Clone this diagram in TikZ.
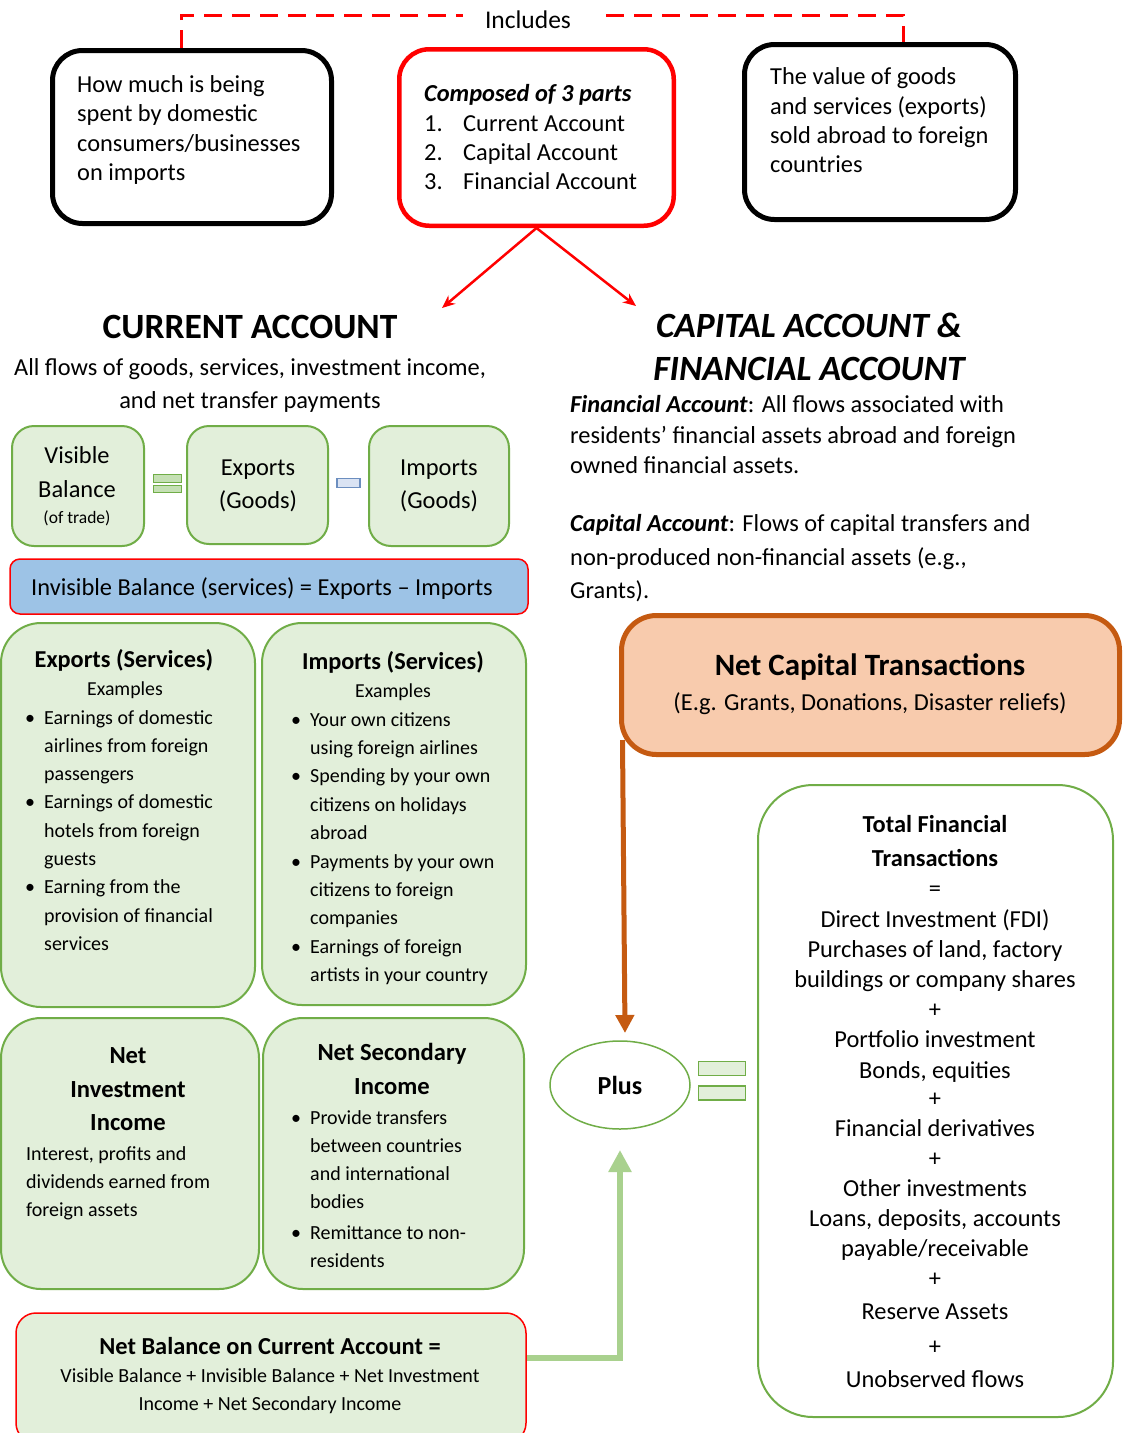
\documentclass[tikz,border=0pt]{standalone}
\usepackage{fontspec}
\setmainfont{Carlito}
\usetikzlibrary{shapes.geometric,arrows.meta}
\definecolor{gfill}{HTML}{E2EFDA}
\definecolor{gline}{HTML}{70AD47}
\definecolor{geq}{HTML}{C5E0B4}
\definecolor{bfill}{HTML}{9DC3E6}
\definecolor{mfill}{HTML}{DAE3F3}
\definecolor{mline}{HTML}{6C8EBF}
\definecolor{ofill}{HTML}{F8CBAD}
\definecolor{oline}{HTML}{C55A11}
\definecolor{garrow}{HTML}{A9D18E}
\newcommand\fsz[2]{\fontsize{#1}{#2}\selectfont}
\newcommand\bul{\llap{\textbullet\hspace{9pt}}}
\begin{document}
\begin{tikzpicture}[x=1pt,y=-1pt,
 box/.style={draw, rectangle, inner sep=0pt},
 blackbox/.style={box, line width=5pt, rounded corners=30pt, fill=white},
 redbox/.style={box, draw=red, line width=4.5pt, rounded corners=30pt, fill=white},
 gbox/.style={box, draw=gline, line width=2pt, fill=gfill},
 txt/.style={inner sep=0pt, align=left, anchor=north west},
 ctxt/.style={inner sep=0pt, align=center, anchor=north},
 btxt/.style={inner sep=0pt, anchor=base},
 redarrow/.style={draw=red, line width=2.5pt, -{Stealth[length=13pt,width=11pt]}},
 garr/.style={draw=garrow, line width=6pt, -{Triangle[length=22pt,width=22pt]}},
 oarr/.style={draw=oline, line width=5pt, -{Triangle[length=18pt,width=18pt]}},
 incdash/.style={draw=red, line width=3pt, dash pattern=on 18pt off 10pt},
]
\fill[white] (0,0) rectangle (1123,1433);
\useasboundingbox (0,0) rectangle (1123,1433);

% top boxes
\node[blackbox, minimum width=279pt, minimum height=173pt] (boxA) at (192,137) {};
\node[redbox, minimum width=274.5pt, minimum height=176.5pt] (boxB) at (536.5,137.5) {};
\node[blackbox, minimum width=271pt, minimum height=175pt] (boxC) at (880,132) {};
\node[txt, font=\fsz{24.4}{29.4}] (tA) at (77,71.5) {\strut How much is being\\spent by domestic\\consumers/businesses\\on imports};
\node[txt, font=\fsz{24.4}{29.4}] (tB) at (424,81) {\strut\textbf{\textit{Composed of 3 parts}}\\\makebox[39pt][l]{1.}Current Account\\\makebox[39pt][l]{2.}Capital Account\\\makebox[39pt][l]{3.}Financial Account};
\node[txt, font=\fsz{24.4}{29.4}] (tC) at (770,64) {\strut The value of goods\\and services (exports)\\sold abroad to foreign\\countries};

% includes
\node[btxt, font=\fsz{25.5}{30}] (incl) at (528,28) {Includes};
\coordinate (dl) at (181,15);
\coordinate (dr) at (903,15);
\draw[incdash] (boxA.north -| dl) -- (dl) -- ([xshift=-22pt]incl.west |- dl);
\draw[incdash] ([xshift=35pt]incl.east |- dr) -- (dr) -- (boxC.north -| dr);

% arrows to headings
\coordinate (tipL) at (442,308);
\coordinate (tipR) at (636,306);
\draw[redarrow] (boxB.south) -- (tipL);
\draw[redarrow] (boxB.south) -- (tipR);

% headings
\node[btxt, font=\fsz{35.5}{40}\bfseries] (hCA) at (250,338) {CURRENT ACCOUNT};
\node[ctxt, font=\fsz{24.4}{33}] (sCA) at (250,352.5) {\strut All flows of goods, services, investment income,\\and net transfer payments};
\node[ctxt, font=\fsz{35.5}{43}\bfseries\itshape] (hCF) at (809,307) {\strut CAPITAL ACCOUNT \&\\FINANCIAL ACCOUNT};
\node[txt, font=\fsz{24.4}{30.5}] (pFA) at (570,391) {\strut\textbf{\textit{Financial Account}}: All flows associated with\\residents’ financial assets abroad and foreign\\owned financial assets.};
\node[txt, font=\fsz{24.4}{33.5}] (pCA) at (570,508) {\strut\textbf{\textit{Capital Account}}: Flows of capital transfers and\\non-produced non-financial assets (e.g.,\\Grants).};

% goods
\node[gbox, rounded corners=22pt, minimum width=132pt, minimum height=120pt] (vis) at (78,486) {};
\node[gbox, rounded corners=22pt, minimum width=141pt, minimum height=118pt] (expG) at (257.5,485) {};
\node[gbox, rounded corners=22pt, minimum width=140pt, minimum height=120pt] (impG) at (439,486) {};
\node[ctxt, font=\fsz{24.4}{34}] (tvis) at (77,439.7) {\strut Visible\\Balance};
\node[btxt, font=\fsz{17.5}{20}] (tvis2) at (77,523) {(of trade)};
\node[ctxt, font=\fsz{24.4}{33}] (texpG) at (258,452.4) {\strut Exports\\(Goods)};
\node[ctxt, font=\fsz{24.4}{33}] (timpG) at (439,452.4) {\strut Imports\\(Goods)};
\node[box, draw=gline, fill=geq, line width=1.2pt, minimum width=28pt, minimum height=7.5pt] (eq1a) at (167.5,478.5) {};
\node[box, draw=gline, fill=geq, line width=1.2pt, minimum width=28pt, minimum height=7.5pt] (eq1b) at (167.5,489) {};
\node[box, draw=mline, fill=mfill, line width=1.2pt, minimum width=23pt, minimum height=9pt] (minus1) at (348.5,483) {};

% invisible
\node[box, draw=red, line width=1.5pt, fill=bfill, rounded corners=10pt, minimum width=518pt, minimum height=55pt] (inv) at (269,586.5) {};
\node[btxt, font=\fsz{24.4}{30}] (tinv) at (262,595) {Invisible Balance (services) = Exports – Imports};

% services
\node[gbox, rounded corners=40pt, minimum width=254pt, minimum height=384pt] (expS) at (128,815) {};
\node[gbox, rounded corners=40pt, minimum width=264pt, minimum height=382pt] (impS) at (394,814) {};
\node[btxt, font=\fsz{24.3}{28}\bfseries] (texpS) at (124,667) {Exports (Services)};
\node[btxt, font=\fsz{19.8}{28}] (texpSe) at (125,695) {Examples};
\node[txt, font=\fsz{20}{28.3}] (texpSb) at (44,704) {\strut\bul Earnings of domestic\\airlines from foreign\\passengers\\\bul Earnings of domestic\\hotels from foreign\\guests\\\bul Earning from the\\provision of financial\\services};
\node[btxt, font=\fsz{24.3}{28}\bfseries] (timpS) at (393,669) {Imports (Services)};
\node[btxt, font=\fsz{19.8}{28}] (timpSe) at (393,697) {Examples};
\node[txt, font=\fsz{20}{28.4}] (timpSb) at (310,706) {\strut\bul Your own citizens\\using foreign airlines\\\bul Spending by your own\\citizens on holidays\\abroad\\\bul Payments by your own\\citizens to foreign\\companies\\\bul Earnings of foreign\\artists in your country};

% income boxes
\node[gbox, rounded corners=40pt, minimum width=258pt, minimum height=271pt] (nii) at (130,1153.5) {};
\node[gbox, rounded corners=40pt, minimum width=261pt, minimum height=271pt] (nsi) at (393.5,1153.5) {};
\node[ctxt, font=\fsz{24.6}{33.5}\bfseries] (tnii) at (128,1040) {\strut Net\\Investment\\Income};
\node[txt, font=\fsz{20}{28}] (tnii2) at (26,1140.8) {\strut Interest, profits and\\dividends earned from\\foreign assets};
\node[ctxt, font=\fsz{24.6}{34}\bfseries] (tnsi) at (392,1036.7) {\strut Net Secondary\\Income};
\node[txt, font=\fsz{20}{28}] (tnsi2) at (310,1104.8) {\strut\bul Provide transfers\\between countries\\and international\\bodies\\[3pt]\bul Remittance to non-\\residents};

% net balance
\node[box, draw=red, line width=1.5pt, fill=gfill, rounded corners=20pt, minimum width=510pt, minimum height=130pt] (nb) at (271,1378) {};
\node[btxt, font=\fsz{24.4}{28}\bfseries] (tnb) at (270,1354) {Net Balance on Current Account =};
\node[ctxt, font=\fsz{20}{28}] (tnb2) at (270,1362.8) {\strut Visible Balance + Invisible Balance + Net Investment\\Income + Net Secondary Income};

% net capital
\node[box, draw=oline, fill=ofill, line width=5pt, rounded corners=35pt, minimum width=498pt, minimum height=139pt] (ncap) at (870.5,685) {};
\node[btxt, font=\fsz{31}{34}\bfseries] (tncap) at (870,675) {Net Capital Transactions};
\node[btxt, font=\fsz{24.4}{28}] (tncap2) at (870,710) {(E.g. Grants, Donations, Disaster reliefs)};

% plus
\node[draw=gline, fill=white, ellipse, line width=1.5pt, minimum width=140pt, minimum height=88pt, inner sep=0pt, font=\fsz{26}{30}\bfseries] (plus) at (620,1085) {Plus};
\node[box, draw=gline, fill=gfill, line width=1.5pt, minimum width=47pt, minimum height=14pt] (eq2a) at (722,1068.5) {};
\node[box, draw=gline, fill=gfill, line width=1.5pt, minimum width=47pt, minimum height=14pt] (eq2b) at (722,1093) {};

% total financial
\node[box, draw=gline, line width=2pt, fill=white, rounded corners=55pt, minimum width=355pt, minimum height=632pt] (tft) at (935.5,1101) {};
\node[ctxt, font=\fsz{24.4}{30}] (ttft) at (935,811.5) {\strut\textbf{Total Financial}\\[4pt]\textbf{Transactions}\\=\\[1pt]Direct Investment (FDI)\\Purchases of land, factory\\buildings or company shares\\+\\Portfolio investment\\[1pt]Bonds, equities\\[-2pt]+\\Financial derivatives\\+\\Other investments\\Loans, deposits, accounts\\payable/receivable\\+\\[3pt]Reserve Assets\\[5pt]+\\[3pt]Unobserved flows};

% connectors
\coordinate (oTip) at (625,1033);
\draw[oarr] ([shift={(3.5,-17)}]ncap.south west) -- (oTip);
\coordinate (gTip) at (620,1150);
\draw[garr] ([yshift=20pt]nb.east) -| (gTip);
\end{tikzpicture}
\end{document}
